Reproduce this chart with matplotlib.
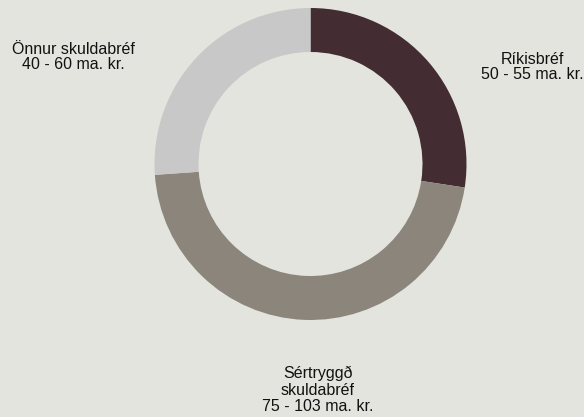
import matplotlib

matplotlib.use("Agg")
import matplotlib.pyplot as plt  # noqa: E402

labels = ["Ríkisbréf\n50 - 55 ma. kr.", "Sértryggð\nskuldabréf\n75 - 103 ma. kr.", "Önnur skuldabréf\n40 - 60 ma. kr."]
values = [52.5, 89.0, 50.0]
colors = ["#432D32", "#8B857B", "#C8C8C8"]
label_pos = [(532, 67), (318, 390), (73.5, 57)]
label_spacing = [1.07, 1.15, 1.05]

BG = "#E4E4DF"
W, H = 584, 417

plt.rcParams["font.family"] = ["Liberation Sans", "DejaVu Sans"]

fig = plt.figure(figsize=(W / 100, H / 100), dpi=100, facecolor=BG)
ax = fig.add_axes([0, 0, 1, 1])
ax.set_facecolor(BG)
ax.axis("off")

ax.pie(
    values,
    colors=colors,
    startangle=90,
    counterclock=False,
    center=(310.5, H - 164),
    radius=156,
    wedgeprops=dict(width=44, linewidth=0),
)
ax.set_xlim(0, W)
ax.set_ylim(0, H)
ax.set_aspect("equal")

for text, (x, y), ls in zip(labels, label_pos, label_spacing):
    ax.text(x, H - y, text, ha="center", va="center", fontsize=11.5,
            color="#111111", linespacing=ls)

fig.savefig("out.png", dpi=100, facecolor=BG)
